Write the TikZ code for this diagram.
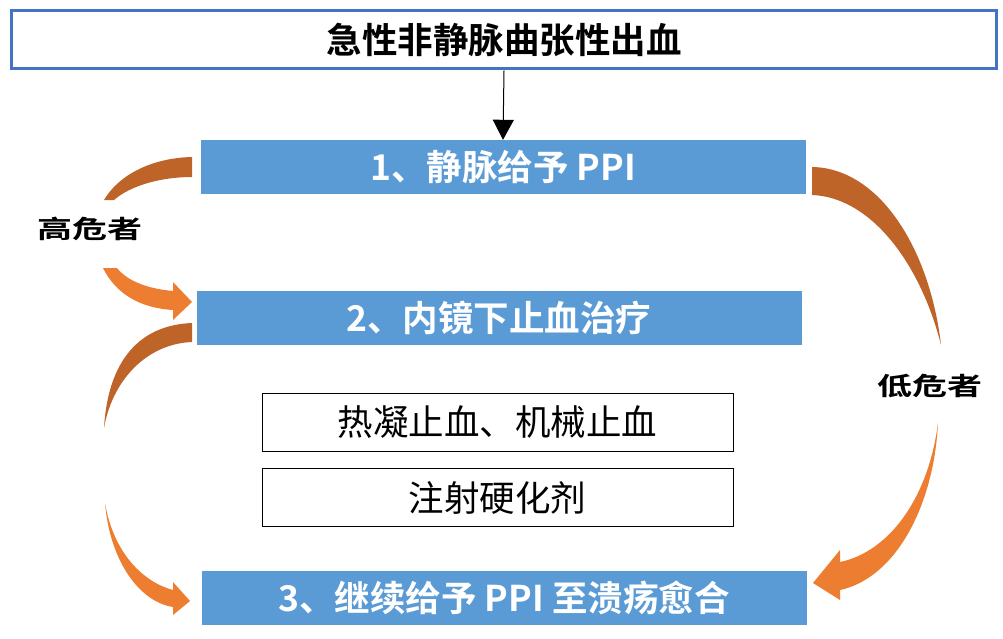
\documentclass[tikz,border=0pt]{standalone}
\usepackage{fontspec}
\newfontfamily\cjk{Noto Sans CJK SC}[BoldFont={Noto Sans CJK SC Bold}]
\usetikzlibrary{arrows.meta}
\definecolor{titleblue}{RGB}{68,114,196}
\definecolor{boxblue}{RGB}{91,155,213}
\definecolor{arrbrown}{RGB}{190,100,40}
\definecolor{arrorange}{RGB}{237,125,49}
\tikzset{
  titlebox/.style={draw=titleblue,line width=3pt,fill=white,inner sep=0pt,
    minimum width=985pt,minimum height=58pt,font=\cjk\bfseries\fontsize{35.5}{40}\selectfont},
  stagebox/.style={fill=boxblue,inner sep=0pt,minimum width=605pt,minimum height=54pt,
    text=white,font=\cjk\bfseries\fontsize{35.5}{40}\selectfont},
  methodbox/.style={draw=black,line width=1pt,fill=white,inner sep=0pt,
    minimum width=471pt,minimum height=58pt,font=\cjk\fontsize{35.5}{40}\selectfont},
  risklabel/.style={inner sep=0pt,font=\cjk\bfseries\fontsize{25}{28}\selectfont,xscale=1.4},
  backpart/.style={fill=arrbrown,draw=none},
  frontpart/.style={fill=arrorange,draw=none},
  flowarrow/.style={-{Triangle[width=21pt,length=20pt]},line width=1pt,black}
}
\begin{document}
\begin{tikzpicture}[x=1pt,y=-1pt]
\useasboundingbox (0,0) rectangle (1003,639);
\node[titlebox] (title) at (504,40) {急性非静脉曲张性出血};
\node[stagebox] (b1) at (503,167) {1、静脉给予 PPI};
\node[stagebox] (b2) at (499,318) {2、内镜下止血治疗};
\node[methodbox] (i1) at (497.5,422) {热凝止血、机械止血};
\node[methodbox] (i2) at (497.5,497.5) {注射硬化剂};
\node[stagebox] (b3) at (504,597.5) {3、继续给予 PPI 至溃疡愈合};
\draw[flowarrow] (title.south) -- (b1.north);
\node[risklabel] (high) at (90,229) {高危者};
\node[risklabel] (low) at (930,386) {低危者};
% left upper curved arrow (high risk): b1 -> b2
\path[backpart] (192,157) .. controls (150,158) and (118,176) .. (104,200)
  -- (114,200) .. controls (130,186) and (160,177) .. (192,177) -- cycle;
\path[frontpart] (103,268) .. controls (116,294) and (140,308) .. (173,310)
  -- (173,320) -- (192,302) -- (173,282) -- (173,291)
  .. controls (150,289) and (128,282) .. (117,268) -- cycle;
% left lower curved arrow: b2 -> b3
\path[backpart] (192,323) .. controls (140,325) and (108,360) .. (104,428)
  .. controls (112,382) and (145,344) .. (192,342) -- cycle;
\path[frontpart] (105,503) .. controls (110,562) and (140,602) .. (173,607)
  -- (173,615) -- (190,601) -- (173,582) -- (173,590)
  .. controls (146,583) and (114,556) .. (105,503) -- cycle;
% right curved arrow (low risk): b1 -> b3
\path[backpart] (812,167) .. controls (880,168) and (930,250) .. (941,345)
  .. controls (920,262) and (870,197) .. (812,195) -- cycle;
\path[frontpart] (938,423) .. controls (934,505) and (896,578) .. (840,590)
  -- (840,600) -- (813,583) -- (840,550) -- (840,562)
  .. controls (888,552) and (928,500) .. (938,423) -- cycle;
\end{tikzpicture}
\end{document}
